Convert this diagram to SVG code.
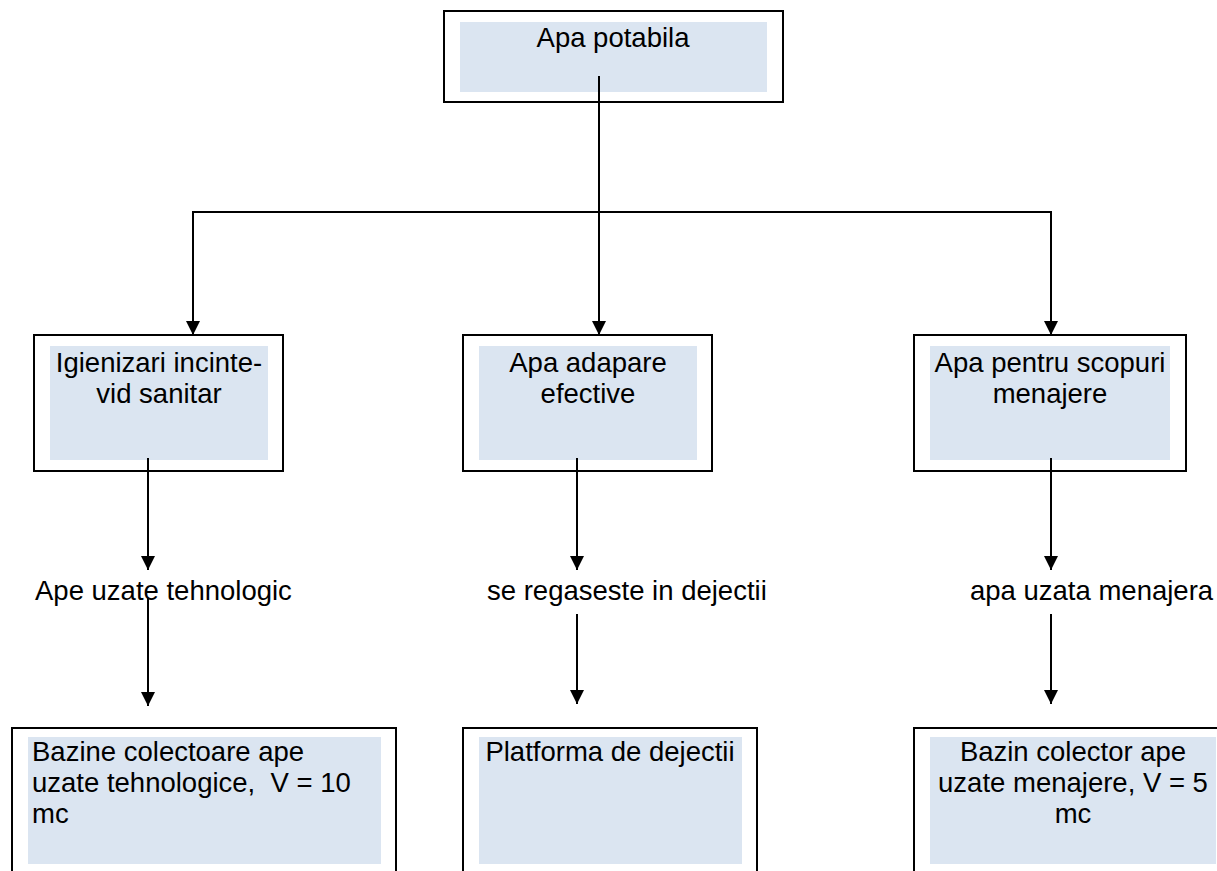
<svg xmlns="http://www.w3.org/2000/svg" width="1217" height="871" viewBox="0 0 1217 871">
<style>
.outer{fill:#ffffff;stroke:#000000;stroke-width:2}
.fill{fill:#dbe5f1;stroke:none}
.t{font-family:"Liberation Sans",Arial,sans-serif;font-size:27.5px;fill:#000000;white-space:pre}
.c{text-anchor:middle}
.con{fill:none;stroke:#000000;stroke-width:2}
</style>
<defs>
<marker id="ah" markerUnits="userSpaceOnUse" markerWidth="14" markerHeight="14" viewBox="0 0 14 14" refX="14" refY="7" orient="auto">
<path d="M0,0 L14,7 L0,14 z" fill="#000000"/>
</marker>
</defs>
<rect width="1217" height="871" fill="#ffffff"/>
<g id="node-apa-potabila">
<rect class="outer" x="444" y="11" width="339" height="91"/>
<rect class="fill" x="460" y="22" width="307" height="70"/>
<text class="t c" x="613" y="47">Apa potabila</text>
</g>
<g id="node-igienizari">
<rect class="outer" x="34" y="335" width="249" height="136"/>
<rect class="fill" x="50" y="346" width="218" height="114"/>
<text class="t c" x="159" y="372">Igienizari incinte-</text>
<text class="t c" x="159" y="403">vid sanitar</text>
</g>
<g id="node-adapare">
<rect class="outer" x="463" y="335" width="249" height="136"/>
<rect class="fill" x="479" y="346" width="218" height="114"/>
<text class="t c" x="588" y="372">Apa adapare</text>
<text class="t c" x="588" y="403">efective</text>
</g>
<g id="node-menajere">
<rect class="outer" x="914" y="335" width="272" height="136"/>
<rect class="fill" x="930" y="346" width="240" height="114"/>
<text class="t c" x="1050" y="372">Apa pentru scopuri</text>
<text class="t c" x="1050" y="403">menajere</text>
</g>
<g id="label-ape-uzate">
<text class="t" x="35" y="600">Ape uzate tehnologic</text>
</g>
<g id="label-dejectii">
<text class="t" x="487" y="600">se regaseste in dejectii</text>
</g>
<g id="label-menajera">
<text class="t" x="970" y="600">apa uzata menajera</text>
</g>
<g id="node-bazine">
<rect class="outer" x="12" y="728" width="384" height="160"/>
<rect class="fill" x="28" y="737" width="353" height="127"/>
<text class="t" x="32" y="761">Bazine colectoare ape</text>
<text class="t" x="32" y="792">uzate tehnologice,  V = 10</text>
<text class="t" x="32" y="823">mc</text>
</g>
<g id="node-platforma">
<rect class="outer" x="463" y="728" width="294" height="160"/>
<rect class="fill" x="479" y="737" width="263" height="127"/>
<text class="t c" x="610" y="761">Platforma de dejectii</text>
</g>
<g id="node-bazin-menajer">
<rect class="outer" x="914" y="728" width="320" height="160"/>
<rect class="fill" x="930" y="737" width="286" height="127"/>
<text class="t c" x="1073" y="761">Bazin colector ape</text>
<text class="t c" x="1073" y="792">uzate menajere, V = 5</text>
<text class="t c" x="1073" y="823">mc</text>
</g>
<g id="connectors">
<line class="con" x1="599" y1="76" x2="599" y2="335" marker-end="url(#ah)"/>
<line class="con" x1="193" y1="212" x2="1051" y2="212"/>
<line class="con" x1="193" y1="211" x2="193" y2="335" marker-end="url(#ah)"/>
<line class="con" x1="1051" y1="211" x2="1051" y2="335" marker-end="url(#ah)"/>
<line class="con" x1="148" y1="458" x2="148" y2="570" marker-end="url(#ah)"/>
<line class="con" x1="148" y1="598" x2="148" y2="706" marker-end="url(#ah)"/>
<line class="con" x1="577" y1="458" x2="577" y2="570" marker-end="url(#ah)"/>
<line class="con" x1="577" y1="614" x2="577" y2="704" marker-end="url(#ah)"/>
<line class="con" x1="1051" y1="458" x2="1051" y2="570" marker-end="url(#ah)"/>
<line class="con" x1="1051" y1="614" x2="1051" y2="704" marker-end="url(#ah)"/>
</g>
</svg>
